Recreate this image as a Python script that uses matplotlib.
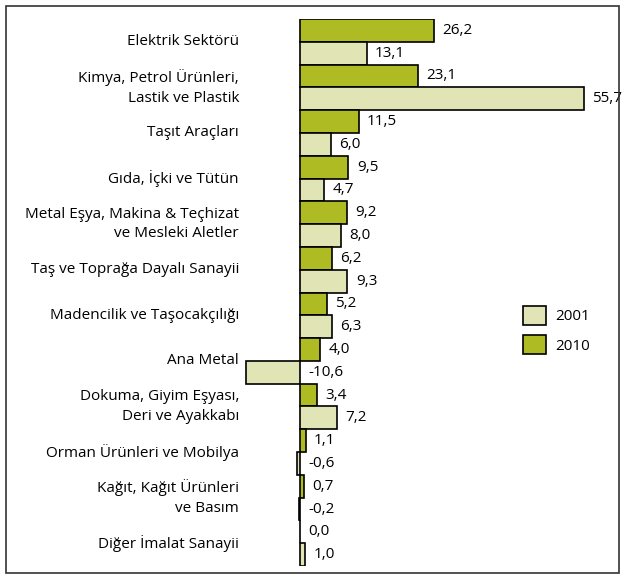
import matplotlib.pyplot as plt
from matplotlib.patches import Rectangle, Patch

plt.rcParams['font.family'] = ['Open Sans', 'DejaVu Sans']
plt.rcParams['font.weight'] = 'medium'

# sektörler (yukarıdan aşağıya)
sectors = [
    "Elektrik Sektörü",
    "Kimya, Petrol Ürünleri,\nLastik ve Plastik",
    "Taşıt Araçları",
    "Gıda, İçki ve Tütün",
    "Metal Eşya, Makina & Teçhizat\nve Mesleki Aletler",
    "Taş ve Toprağa Dayalı Sanayii",
    "Madencilik ve Taşocakçılığı",
    "Ana Metal",
    "Dokuma, Giyim Eşyası,\nDeri ve Ayakkabı",
    "Orman Ürünleri ve Mobilya",
    "Kağıt, Kağıt Ürünleri\nve Basım",
    "Diğer İmalat Sanayii",
]
v2010 = [26.2, 23.1, 11.5, 9.5, 9.2, 6.2, 5.2, 4.0, 3.4, 1.1, 0.7, 0.0]
v2001 = [13.1, 55.7, 6.0, 4.7, 8.0, 9.3, 6.3, -10.6, 7.2, -0.6, -0.2, 1.0]

c2001 = '#e1e5b5'
c2010 = '#aebb23'

W, H = 624, 578
fig = plt.figure(figsize=(W / 100, H / 100), dpi=100)

# eksen: sıfır çizgisi x=300 px, 5.1 px/birim
x0, x1 = -12, 60
scale = 5.1
left_px = 300 + x0 * scale
ax = fig.add_axes([left_px / W, 12 / H, (x1 - x0) * scale / W, 547 / H])
ax.set_xlim(x0, x1)
ax.set_ylim(2 * len(sectors), 0)
ax.axis('off')

fs = 11
for i, name in enumerate(sectors):
    y10 = 2 * i + 0.5
    y01 = 2 * i + 1.5
    ax.barh(y10, v2010[i], height=1, color=c2010, edgecolor='black', linewidth=1.2)
    ax.barh(y01, v2001[i], height=1, color=c2001, edgecolor='black', linewidth=1.2)
    for y, v in ((y10, v2010[i]), (y01, v2001[i])):
        ax.annotate(f"{v:.1f}".replace('.', ','), (max(v, 0), y),
                    xytext=(6, 0), textcoords='offset points',
                    ha='left', va='center', fontsize=fs)
    # kategori etiketi (sağa hizalı, x=239 px)
    ax.text(-(300 - 239) / scale, 2 * i + 1, name, ha='right', va='center',
            fontsize=fs, linespacing=1.4)

handles = [Patch(facecolor=c2001, edgecolor='black', linewidth=1.2, label='2001'),
           Patch(facecolor=c2010, edgecolor='black', linewidth=1.2, label='2010')]
fig.legend(handles=handles, loc='upper left', bbox_to_anchor=(523 / W, 1 - 306 / H),
           frameon=False, fontsize=fs, handlelength=1.5, handleheight=1.5,
           handletextpad=0.6, labelspacing=0.7, borderpad=0, borderaxespad=0)

# çerçeve
fig.patches.append(Rectangle((6 / W, 5 / H), 613 / W, 567 / H, transform=fig.transFigure,
                             fill=False, edgecolor='#333333', linewidth=1.2))

fig.savefig('out.png', dpi=100)
